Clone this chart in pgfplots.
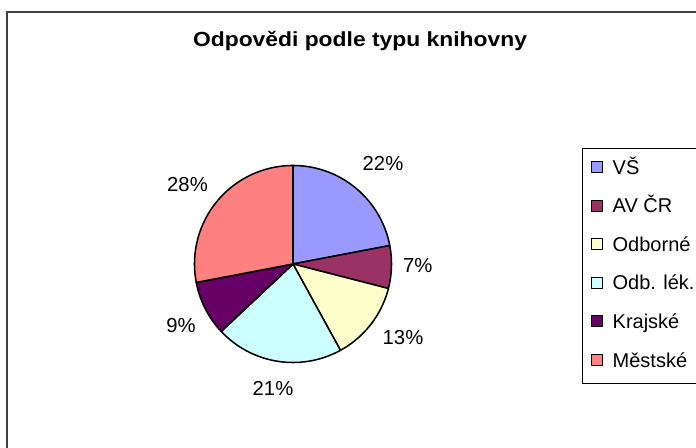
\documentclass[border=0pt]{standalone}
\usepackage{pgfplots}
\pgfplotsset{compat=1.18}
\usepackage{pgfplotstable}
\usepackage{fontspec}
\setmainfont{Liberation Sans}
\newfontfamily\titlefont[FakeStretch=1.12]{Liberation Sans}
\definecolor{c0}{HTML}{9999FF}
\definecolor{c1}{HTML}{993366}
\definecolor{c2}{HTML}{FFFFCC}
\definecolor{c3}{HTML}{CCFFFF}
\definecolor{c4}{HTML}{660066}
\definecolor{c5}{HTML}{FF8080}
\definecolor{framegray}{HTML}{404040}

\pgfplotstableread[col sep=comma]{
label,value
VŠ,22
AV ČR,7
Odborné,13
Odb. lék.,21
Krajské,9
Městské,28
}\piedata

\begin{document}
\begin{tikzpicture}
\begin{axis}[
  name=ax,
  scale only axis,
  width=522pt, height=336pt,
  xmin=0, xmax=696, ymin=0, ymax=448,
  hide axis,
  clip=true,
  legend image code/.code={\draw[#1, draw=black, line width=0.75pt] (0pt,-4.1pt) rectangle (8.2pt,4.1pt);},
  legend cell align=left,
  legend style={
    at={(axis cs:591,288.2)}, anchor=north west,
    draw=none, fill=none, inner sep=0pt, outer sep=0pt,
    row sep=18.2pt, column sep=7.3pt,
    font=\fontsize{15}{18}\selectfont,
    nodes={inner sep=0pt, outer sep=0pt, text height=10.75pt, text depth=0pt},
  },
]
% outer frame (clipped at right and bottom)
\draw[framegray, line width=1.2pt] (axis cs:7,-60) -- (axis cs:7,436) -- (axis cs:780,436);
% legend box
\draw[black, line width=0.75pt] (axis cs:582,299) rectangle (axis cs:780,64);

% pie slices from the table
\pgfmathsetmacro\cum{0}
\pgfplotsforeachungrouped \i in {0,...,5}{%
  \pgfplotstablegetelem{\i}{value}\of\piedata
  \let\v=\pgfplotsretval
  \pgfmathsetmacro\sa{90-3.6*\cum}%
  \pgfmathsetmacro\sb{90-3.6*(\cum+\v)}%
  \edef\temp{\noexpand\addplot[fill=c\i, draw=black, line width=1.15pt, line join=round, domain=\sa:\sb, samples=80, smooth=false]
     ({293+98.5*cos(x)},{184+98.5*sin(x)}) -- (axis cs:293,184) -- cycle;}%
  \temp
  \pgfmathsetmacro\cum{\cum+\v}%
}
\legend{VŠ,AV ČR,Odborné,Odb. lék.,Krajské,Městské}

% data labels
\begin{scope}[every node/.style={font=\fontsize{15.2}{18}\selectfont, anchor=base, inner sep=0pt}]
\node at (axis cs:383,277) {22\%};
\node at (axis cs:417.7,175.3) {7\%};
\node at (axis cs:403,103) {13\%};
\node at (axis cs:273,52.3) {21\%};
\node at (axis cs:181,115.7) {9\%};
\node at (axis cs:187.5,256.3) {28\%};
\end{scope}

% title
\node[font=\titlefont\bfseries\fontsize{15.3}{18}\selectfont, anchor=base, inner sep=0pt] at (axis cs:360,401) {Odpovědi podle typu knihovny};
\end{axis}
\pgfresetboundingbox
\useasboundingbox (0,0) rectangle (522pt,336pt);
\end{tikzpicture}
\end{document}
